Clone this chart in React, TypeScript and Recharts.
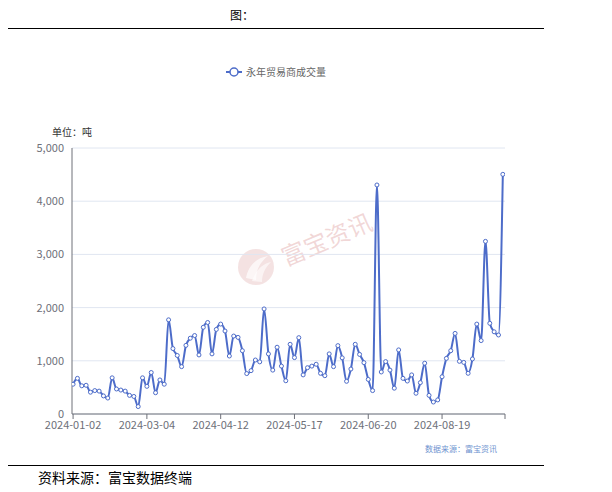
import React from "react";
import { LineChart, Line, XAxis, YAxis, CartesianGrid } from "recharts";

// 永年贸易商成交量 (吨), one value per category
const values = [
  560, 670, 530, 540, 410, 440, 430, 340, 300, 680,
  470, 450, 430, 350, 330, 140, 680, 520, 780, 400,
  640, 560, 1770, 1230, 1100, 890, 1290, 1425, 1475, 1110,
  1630, 1720, 1130, 1590, 1690, 1560, 1090, 1465, 1440, 1190,
  760, 815, 1015, 980, 1975, 1130, 825, 1255, 900, 625,
  1310, 1060, 1435, 735, 870, 900, 935, 765, 720, 1130,
  890, 1285, 1055, 615, 845, 1310, 1120, 965, 650, 440,
  4305, 790, 985, 825, 485, 1205, 670, 620, 735, 390,
  590, 955, 350, 225, 265, 700, 1045, 1190, 1515, 990,
  970, 765, 1035, 1690, 1380, 3245, 1705, 1545, 1485, 4505,
];

const tickIndex = [0, 17, 34, 51, 68, 85];
const tickLabels = ["2024-01-02", "2024-03-04", "2024-04-12", "2024-05-17", "2024-06-20", "2024-08-19"];
const yTicks = [0, 1000, 2000, 3000, 4000, 5000];

const seriesName = "永年贸易商成交量";
const LINE_COLOR = "#4d6cc9";
const AXIS_COLOR = "#6E7079";
const FONT = '"Noto Sans CJK SC", "Noto Sans", sans-serif';

const data = values.map((v, i) => ({ idx: i, value: v }));
const X_END = 99.5;

const formatX = (v: number) => {
  const k = tickIndex.indexOf(v);
  return k >= 0 ? tickLabels[k] : "";
};

const Watermark: React.FC = () => (
  <svg
    width={612}
    height={492}
    style={{ position: "absolute", left: 0, top: 0, pointerEvents: "none" }}
  >
    <circle cx={256} cy={267} r={18} fill="rgba(215,150,150,0.28)" />
    <path
      d="M246 278 C248 266 256 258 268 256 C260 262 256 270 256 280 Z"
      fill="rgba(255,255,255,0.7)"
    />
    <path
      d="M252 281 C256 270 262 264 271 262 C265 268 262 274 262 282 Z"
      fill="rgba(255,255,255,0.6)"
    />
    <text
      x={326}
      y={238}
      fontSize={24}
      fill="rgba(215,140,140,0.35)"
      textAnchor="middle"
      dominantBaseline="central"
      fontFamily={FONT}
      transform="rotate(-23 326 238)"
    >
      富宝资讯
    </text>
  </svg>
);

export default function App() {
  return (
    <div
      style={{
        position: "absolute",
        left: 0,
        top: 0,
        width: 612,
        height: 492,
        background: "#fff",
        fontFamily: FONT,
      }}
    >
      {/* title and rules */}
      <div style={{ position: "absolute", left: 0, width: 484, top: 6, textAlign: "center", fontSize: 12, color: "#000" }}>
        图：
      </div>
      <div style={{ position: "absolute", left: 8, width: 536, top: 28, height: 1, background: "#000" }} />

      {/* legend */}
      <div style={{ position: "absolute", left: 226, top: 64, display: "flex", alignItems: "center", fontSize: 10, color: "#666" }}>
        <svg width={16} height={12} style={{ marginRight: 4 }}>
          <line x1={0} y1={6} x2={16} y2={6} stroke={LINE_COLOR} strokeWidth={2} />
          <circle cx={8} cy={6} r={4} fill="#fff" stroke={LINE_COLOR} strokeWidth={1.5} />
        </svg>
        <span>{seriesName}</span>
      </div>

      <div style={{ position: "absolute", left: 52, top: 124, fontSize: 10, color: "#333" }}>单位：吨</div>

      <Watermark />

      <div style={{ position: "absolute", left: 0, top: 0 }}>
        <LineChart
          width={612}
          height={492}
          data={data}
          margin={{ top: 148, right: 107, bottom: 48, left: 12 }}
        >
          <CartesianGrid vertical={false} stroke="#E0E6F1" yAxisId="left" />
          <XAxis
            dataKey="idx"
            type="number"
            domain={[-0.25, X_END]}
            allowDataOverflow
            ticks={[...tickIndex, X_END]}
            tickFormatter={formatX}
            interval={0}
            height={30}
            tick={{ fontSize: 11, fill: AXIS_COLOR, fontFamily: FONT }}
            tickLine={{ stroke: AXIS_COLOR }}
            tickSize={5}
            axisLine={{ stroke: AXIS_COLOR }}
          />
          <YAxis
            yAxisId="left"
            domain={[0, 5000]}
            ticks={yTicks}
            interval={0}
            width={60}
            tickFormatter={(v: number) => v.toLocaleString("en-US")}
            tick={{ fontSize: 11, fill: AXIS_COLOR, fontFamily: FONT }}
            tickLine={false}
            axisLine={{ stroke: AXIS_COLOR }}
          />
          <YAxis
            yAxisId="right"
            orientation="right"
            domain={[0, 5000]}
            width={0}
            tick={false}
            tickLine={false}
            axisLine={{ stroke: AXIS_COLOR }}
          />
          <Line
            yAxisId="left"
            type="monotone"
            dataKey="value"
            name={seriesName}
            stroke={LINE_COLOR}
            strokeWidth={2}
            dot={{ r: 2, fill: "#fff", stroke: LINE_COLOR, strokeWidth: 1 }}
            isAnimationActive={false}
          />
        </LineChart>
      </div>

      <div style={{ position: "absolute", left: 425, top: 443, fontSize: 8, color: "#6f94d0" }}>数据来源：富宝资讯</div>
      <div style={{ position: "absolute", left: 8, width: 536, top: 465, height: 1, background: "#000" }} />
      <div style={{ position: "absolute", left: 38, top: 467, fontSize: 14, color: "#000" }}>资料来源：富宝数据终端</div>
    </div>
  );
}
